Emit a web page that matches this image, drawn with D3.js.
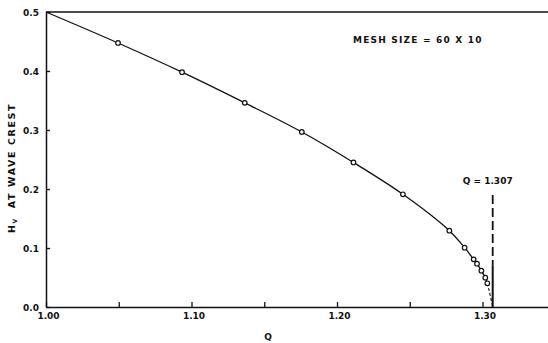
<!DOCTYPE html>
<html>
<head>
<meta charset="utf-8">
<script src="https://cdn.jsdelivr.net/npm/d3@7"></script>
<style>
  html, body { margin: 0; padding: 0; background: #fff; }
  svg { display: block; }
  text { font-family: "DejaVu Sans", "Liberation Sans", sans-serif; font-weight: bold; fill: #111; }
</style>
</head>
<body>
<svg id="chart" width="548" height="343"></svg>
<script>
// Computed wave-crest profile: discharge Q vs. H_V at the crest (mesh 60 x 10)
const qValues = [1.000, 1.0495, 1.0935, 1.1366, 1.1758, 1.2113, 1.2453, 1.2772, 1.2877, 1.2939, 1.2962, 1.2992, 1.3019, 1.3033];
const hValues = [0.500, 0.4475, 0.398, 0.346, 0.2966, 0.245, 0.191, 0.1293, 0.1005, 0.0808, 0.0734, 0.0615, 0.0497, 0.0402];
// Extrapolated end of the curve at the limiting discharge
const qLimit = 1.307;
const hLimit = 0.0;
const xTicks = [1.00, 1.05, 1.10, 1.15, 1.20, 1.25, 1.30];
const xTickLabels = ["1.00", "", "1.10", "", "1.20", "", "1.30"];
const yTicks = [0.0, 0.1, 0.2, 0.3, 0.4, 0.5];
const yTickLabels = ["0.0", "0.1", "0.2", "0.3", "0.4", "0.5"];

const svg = d3.select("#chart");
const x = d3.scaleLinear().domain([1.0, 1.345]).range([46, 548]);
const y = d3.scaleLinear().domain([0, 0.5]).range([307, 12]);

// frame line along the top
svg.append("line").attr("x1", x(1.0)).attr("x2", 548).attr("y1", y(0.5)).attr("y2", y(0.5))
  .attr("stroke", "#111").attr("stroke-width", 1.5);

// x axis
const xAxis = d3.axisBottom(x).tickValues(xTicks)
  .tickFormat((d, i) => xTickLabels[i]).tickSizeInner(-5).tickSizeOuter(0).tickPadding(10);
const gx = svg.append("g").attr("transform", `translate(0,${y(0)})`).call(xAxis);
gx.select(".domain").attr("stroke", "#111").attr("stroke-width", 1.5);
gx.selectAll(".tick line").attr("stroke", "#111").attr("stroke-width", 1.3);
gx.selectAll(".tick text").attr("font-size", 9).attr("dx", 2).attr("dy", "0.2em");

// y axis
const yAxis = d3.axisLeft(y).tickValues(yTicks)
  .tickFormat((d, i) => yTickLabels[i]).tickSizeInner(-4).tickSizeOuter(0).tickPadding(7);
const gy = svg.append("g").attr("transform", `translate(${x(1.0)},0)`).call(yAxis);
gy.select(".domain").attr("stroke", "#111").attr("stroke-width", 1.5);
gy.selectAll(".tick line").attr("stroke", "#111").attr("stroke-width", 1.3);
gy.selectAll(".tick text").attr("font-size", 9).attr("dy", "0.35em");
svg.selectAll(".tick text").style("font-family", "DejaVu Sans").style("font-weight", "bold").attr("fill", "#111");

// axis titles
svg.append("text").attr("x", 268).attr("y", 340).attr("text-anchor", "middle")
  .attr("font-size", 9).text("Q");
const yt = svg.append("text").attr("transform", "translate(15,168) rotate(-90)")
  .attr("text-anchor", "middle").attr("font-size", 9.5).attr("letter-spacing", 1.6);
yt.append("tspan").text("H");
yt.append("tspan").attr("font-size", 6).attr("dy", 2).text("V");
yt.append("tspan").attr("dy", -2).attr("dx", 9).text("AT  WAVE  CREST");

// computed curve
const pts = qValues.map((q, i) => [q, hValues[i]]);
const line = d3.line().x(d => x(d[0])).y(d => y(d[1])).curve(d3.curveCatmullRom.alpha(0.5));
svg.append("path").attr("d", line(pts)).attr("fill", "none")
  .attr("stroke", "#111").attr("stroke-width", 1.3);

// extrapolation to the limiting discharge, dashed past the last computed point
const tail = [pts[pts.length - 2], pts[pts.length - 1], [qLimit, hLimit]];
const tailPath = svg.append("path").attr("d", line(tail)).attr("fill", "none")
  .attr("stroke", "#111").attr("stroke-width", 1.1);
const firstLen = (() => {
  const p = svg.append("path").attr("d", line(tail.slice(0, 2)));
  const l = p.node().getTotalLength(); p.remove(); return l;
})();
tailPath.attr("stroke-dasharray", `0,${firstLen},3,2,3,2,3,2,3,2,3,2,3,2,3,2`);

// circles at computed points (start point has none)
svg.selectAll("circle.pt").data(pts.slice(1)).enter().append("circle")
  .attr("class", "pt").attr("cx", d => x(d[0])).attr("cy", d => y(d[1])).attr("r", 2.3)
  .attr("fill", "#fff").attr("stroke", "#111").attr("stroke-width", 1.2);

// limiting discharge marker
svg.append("line").attr("x1", x(qLimit)).attr("x2", x(qLimit)).attr("y1", y(0.19)).attr("y2", y(0.07))
  .attr("stroke", "#111").attr("stroke-width", 1.8).attr("stroke-dasharray", "9,4");
svg.append("line").attr("x1", x(qLimit)).attr("x2", x(qLimit)).attr("y1", y(0.07)).attr("y2", y(0))
  .attr("stroke", "#111").attr("stroke-width", 2);
svg.append("text").attr("x", x(qLimit) - 5).attr("y", 184).attr("text-anchor", "middle")
  .attr("font-size", 9).text("Q = 1.307");

// annotation
svg.append("text").attr("x", 353).attr("y", 43).attr("font-size", 9).attr("letter-spacing", 1.2)
  .text("MESH SIZE = 60 X 10");
</script>
</body>
</html>
